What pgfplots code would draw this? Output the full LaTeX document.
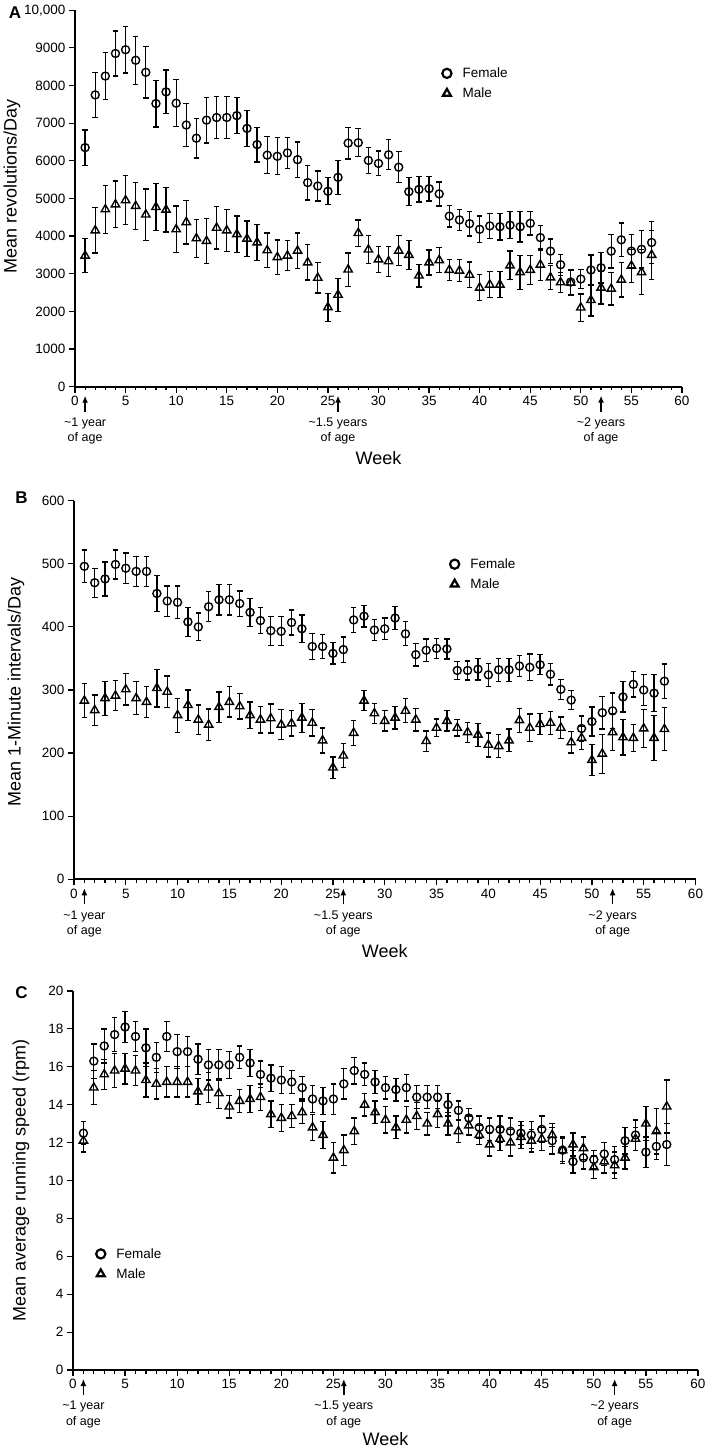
\documentclass[border=0pt]{standalone}
\usepackage{fontspec}
\setmainfont{Liberation Sans}
\usepackage{pgfplots}
\pgfplotsset{compat=1.18}
\usepackage{pgfplotstable}
\usetikzlibrary{arrows.meta}

% week, female mean, female SEM, male mean, male SEM
\pgfplotstableread{
w f fe m me
1 6350 470 3480 450
2 7750 600 4150 600
3 8250 630 4710 640
4 8850 600 4840 620
5 8950 620 4950 650
6 8670 640 4800 630
7 8350 680 4570 680
8 7520 620 4770 630
9 7830 580 4700 590
10 7530 620 4180 620
11 6950 570 4370 580
12 6600 530 3940 500
13 7080 610 3870 600
14 7150 560 4220 560
15 7150 560 4150 560
16 7200 480 4050 480
17 6860 480 3930 470
18 6430 460 3830 480
19 6150 490 3620 460
20 6120 490 3440 460
21 6210 410 3480 400
22 6030 470 3610 470
23 5420 460 3300 470
24 5330 400 2890 400
25 5190 360 2110 370
26 5560 450 2440 440
27 6470 420 3110 440
28 6480 370 4080 350
29 6010 350 3640 370
30 5930 330 3380 350
31 6160 400 3330 400
32 5830 410 3610 400
33 5180 370 3500 380
34 5240 335 2950 300
35 5260 330 3300 330
36 5120 320 3360 330
37 4530 285 3100 280
38 4430 280 3080 290
39 4330 330 2970 340
40 4180 350 2630 350
41 4270 335 2710 350
42 4250 350 2710 350
43 4290 360 3220 380
44 4250 410 3040 450
45 4340 310 3100 380
46 3960 330 3240 420
47 3600 320 2900 310
48 3240 280 2770 270
49 2780 330 2760 330
50 2860 250 2100 360
51 3100 400 2300 420
52 3160 410 2630 430
53 3600 450 2600 430
54 3900 450 2840 460
55 3600 450 3210 440
56 3650 500 3040 600
57 3830 550 3500 650
}\dataA

\pgfplotstableread{
w f fe m me
1 496 26 283 27
2 470 23 268 24
3 476 27 287 27
4 499 23 291 24
5 493 24 301 25
6 488 24 287 26
7 488 24 281 25
8 453 29 303 30
9 441 24 297 25
10 439 26 260 27
11 408 23 276 24
12 400 22 253 23
13 432 24 245 25
14 443 24 273 24
15 443 24 281 24
16 437 20 274 20
17 423 22 260 21
18 410 21 253 21
19 394 23 255 23
20 393 23 245 24
21 407 20 247 20
22 397 22 256 23
23 369 21 248 21
24 369 19 220 20
25 358 17 177 17
26 364 20 196 19
27 411 20 232 20
28 417 17 283 16
29 395 17 263 16
30 397 17 251 16
31 414 18 256 18
32 389 19 267 19
33 356 18 253 18
34 363 18 219 16
35 366 16 240 14
36 365 16 251 16
37 331 14 240 13
38 331 15 233 16
39 333 17 229 18
40 324 18 213 19
41 332 18 211 18
42 332 18 220 18
43 338 17 252 19
44 336 21 240 22
45 340 16 246 17
46 325 17 248 18
47 301 16 240 17
48 284 15 217 17
49 239 20 224 18
50 250 23 189 25
51 264 26 199 31
52 267 28 233 29
53 289 24 225 28
54 309 20 224 21
55 300 25 239 30
56 295 29 224 36
57 314 27 238 34
}\dataB

\pgfplotstableread{
w f fe m me
1 12.5 0.6 12.1 0.6
2 16.3 0.9 14.9 0.9
3 17.1 0.9 15.6 0.8
4 17.7 0.9 15.8 0.9
5 18.1 0.8 15.9 0.8
6 17.6 0.8 15.8 0.8
7 17.0 1.0 15.3 0.9
8 16.5 0.8 15.1 0.8
9 17.6 0.8 15.2 0.8
10 16.8 0.9 15.2 0.8
11 16.8 0.8 15.2 0.8
12 16.4 0.8 14.7 0.7
13 16.1 0.8 14.9 0.8
14 16.1 0.8 14.6 0.8
15 16.1 0.7 13.9 0.6
16 16.5 0.6 14.2 0.6
17 16.2 0.7 14.3 0.7
18 15.6 0.7 14.4 0.7
19 15.4 0.7 13.5 0.7
20 15.3 0.7 13.3 0.7
21 15.2 0.6 13.4 0.6
22 14.9 0.6 13.6 0.6
23 14.3 0.7 12.8 0.7
24 14.2 0.7 12.4 0.7
25 14.3 0.8 11.2 0.8
26 15.1 0.8 11.6 0.8
27 15.8 0.7 12.6 0.7
28 15.6 0.6 14.0 0.6
29 15.2 0.6 13.6 0.6
30 14.9 0.6 13.2 0.7
31 14.8 0.6 12.8 0.6
32 14.9 0.7 13.2 0.7
33 14.4 0.6 13.4 0.7
34 14.4 0.6 13.0 0.6
35 14.4 0.6 13.5 0.7
36 14.0 0.6 13.0 0.6
37 13.7 0.5 12.6 0.6
38 13.3 0.5 12.9 0.5
39 12.8 0.6 12.4 0.5
40 12.7 0.6 11.9 0.6
41 12.7 0.7 12.2 0.6
42 12.6 0.7 12.0 0.7
43 12.5 0.6 12.3 0.6
44 12.4 0.7 12.1 0.6
45 12.7 0.7 12.2 0.6
46 12.1 0.7 12.4 0.6
47 11.6 0.7 11.6 0.6
48 11.0 0.6 11.9 0.6
49 11.2 0.6 11.7 0.6
50 11.1 0.5 10.7 0.6
51 11.4 0.6 11.0 0.6
52 11.1 0.7 10.8 0.7
53 12.1 0.7 11.2 0.6
54 12.4 0.8 12.2 0.6
55 11.5 0.8 13.0 0.9
56 11.8 0.7 12.6 1.2
57 11.9 1.1 13.9 1.4
}\dataC

\pgfplotsset{
  wheel/.style={
    scale only axis,
    xmin=0, xmax=60, ymin=0,
    axis lines=left,
    axis line style={-, line width=1.8pt},
    clip=false,
    xtick={0,5,...,60},
    minor x tick num=4,
    tick align=outside,
    major tick length=6pt,
    minor tick length=3.5pt,
    every tick/.style={black, line width=1.2pt},
    tick label style={font=\fontsize{13.5}{16}\selectfont},
    /pgf/number format/assume math mode=true,
    /pgf/number format/1000 sep={},
    xlabel={Week},
    xlabel style={font=\fontsize{18}{21}\selectfont, at={(axis description cs:0.5,0)}, anchor=center, yshift=-71pt},
    ylabel style={font=\fontsize{18}{21}\selectfont, anchor=center},
    error bars/y dir=both,
    error bars/y explicit,
    error bars/error bar style={line width=1.3pt, black},
    error bars/error mark options={rotate=90, mark size=2.8pt, line width=1.3pt, black},
    legend style={draw=none, fill=none, inner xsep=0pt, inner ysep=0pt, anchor=north west,
      font=\fontsize{13.5}{16}\selectfont, row sep=4.8pt},
    legend cell align=left,
    legend image code/.code={\path (0pt,0pt) (18pt,0pt);
      \draw[##1, line width=2.2pt, mark size=4.6pt] plot coordinates {(5pt,0pt)};},
  },
  fem/.style={black, only marks, mark=o, mark size=4pt, line width=1.4pt},
  mal/.style={black, only marks, mark=triangle, mark size=4.8pt, line width=1.4pt},
}

\newcommand{\agemark}[2]{%
  \draw[-{Latex[length=7pt,width=6pt]}, line width=1.4pt]
    ([yshift=-25pt]axis cs:#1,0) -- ([yshift=-9pt]axis cs:#1,0);
  \node[font=\fontsize{12.5}{15.3}\selectfont, align=center, anchor=north, inner sep=0pt]
    at ([yshift=-31pt]axis cs:#1,0) {#2};}

\newcommand{\agemarks}{%
  \agemark{1}{\textasciitilde1 year\\of age}
  \agemark{26}{\textasciitilde1.5 years\\of age}
  \agemark{52}{\textasciitilde2 years\\of age}}

\begin{document}
\begin{tikzpicture}
\useasboundingbox (0pt,0pt) rectangle (709pt,1451pt);

\node[font=\bfseries\fontsize{17}{20}\selectfont] at (15pt,1438pt) {A};
\node[font=\bfseries\fontsize{17}{20}\selectfont] at (21.5pt,953.5pt) {B};
\node[font=\bfseries\fontsize{17}{20}\selectfont] at (21.5pt,458.5pt) {C};

% panel A
\begin{axis}[wheel,
  at={(75pt,1064.3pt)}, width=607pt, height=376.5pt,
  ymax=10000, ytick={0,1000,...,10000},
  yticklabels={0,1000,2000,3000,4000,5000,6000,7000,8000,9000,{10,000}},
  ylabel={Mean revolutions/Day},
  ylabel style={at={(axis description cs:-0.1038,0.533)}},
  legend style={at={(axis description cs:0.603,0.853)}},
]
\addplot[fem] table[x=w, y=f, y error=fe] {\dataA};
\addlegendentry{Female}
\addplot[mal] table[x=w, y=m, y error=me] {\dataA};
\addlegendentry{Male}
\agemarks
\end{axis}

% panel B
\begin{axis}[wheel,
  at={(74pt,571.7pt)}, width=621.5pt, height=378.6pt,
  ymax=600, ytick={0,100,...,600},
  ylabel={Mean 1-Minute intervals/Day},
  ylabel style={at={(axis description cs:-0.0933,0.494)}},
  xlabel style={yshift=-1pt},
  legend style={at={(axis description cs:0.603,0.853)}},
]
\addplot[fem] table[x=w, y=f, y error=fe] {\dataB};
\addlegendentry{Female}
\addplot[mal] table[x=w, y=m, y error=me] {\dataB};
\addlegendentry{Male}
\agemarks
\end{axis}

% panel C
\begin{axis}[wheel,
  at={(73pt,81pt)}, width=625pt, height=379pt,
  ymax=20, ytick={0,2,...,20},
  ylabel={Mean average running speed (rpm)},
  ylabel style={at={(axis description cs:-0.0832,0.5)}},
  xlabel style={yshift=2pt},
  legend style={at={(axis description cs:0.035,0.327)}},
]
\addplot[fem] table[x=w, y=f, y error=fe] {\dataC};
\addlegendentry{Female}
\addplot[mal] table[x=w, y=m, y error=me] {\dataC};
\addlegendentry{Male}
\agemarks
\end{axis}
\end{tikzpicture}
\end{document}
